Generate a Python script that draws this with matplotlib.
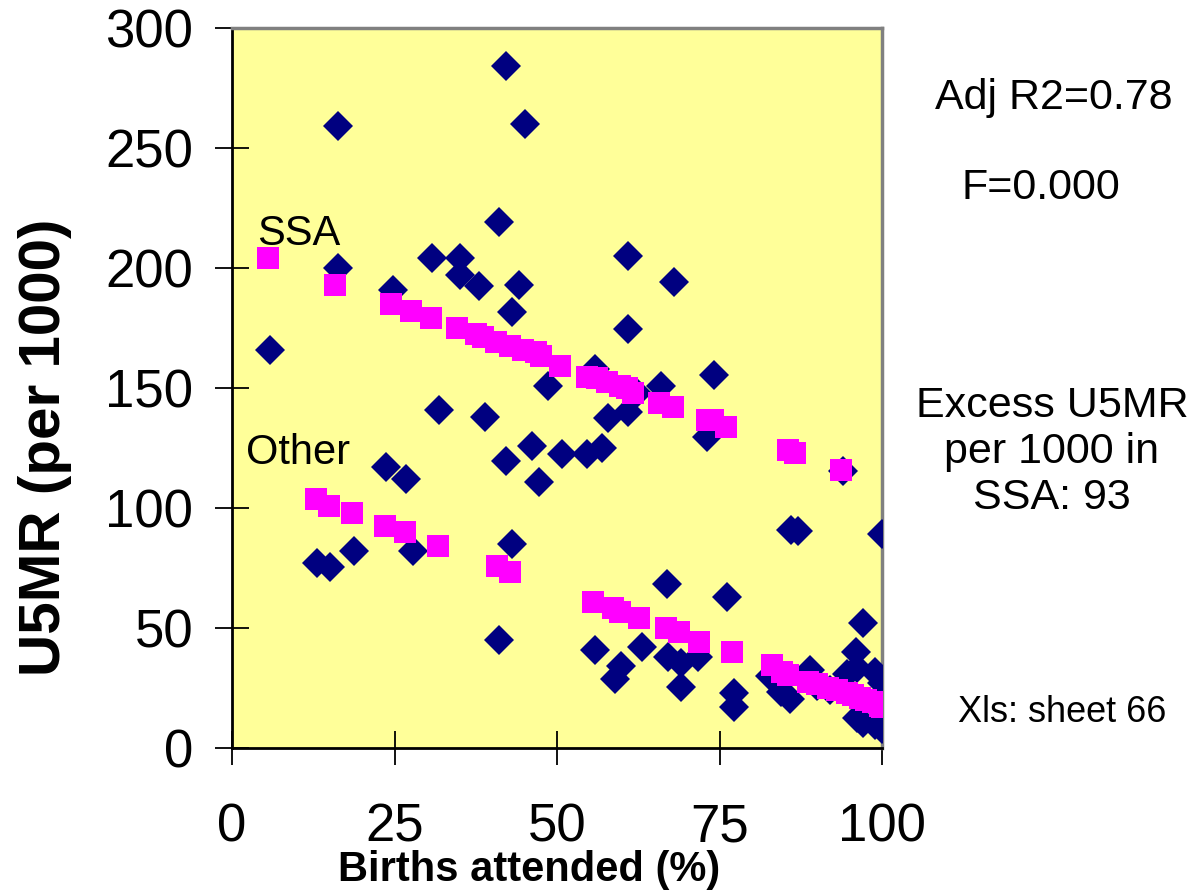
import matplotlib
matplotlib.use("Agg")
import matplotlib.pyplot as plt

plt.rcParams['font.family'] = ['Liberation Sans', 'DejaVu Sans']

# Observed data (births attended %, U5MR per 1000)
obs_x = [5.8, 16.3, 16.3, 24.8, 13.1, 15.1, 18.8, 23.7, 26.8, 27.8, 30.8, 31.8, 35.0, 35.0,
         38.0, 38.9, 42.2, 41.1, 45.1, 44.2, 43.1, 48.6, 46.2, 42.2, 47.2, 50.8, 54.6, 56.9,
         57.8, 60.9, 60.9, 68.0, 60.9, 74.2, 66.0, 55.8, 62.3, 73.0, 94.0, 43.1, 41.1, 66.9,
         76.2, 97.1, 55.8, 63.0, 59.8, 58.9, 67.0, 69.0, 69.0, 71.7, 77.2, 77.2, 84.5, 85.8,
         88.9, 82.8, 96.0, 96.2, 98.9, 100.0, 94.6, 96.2, 97.1, 98.9, 100.0, 100.0, 86.0, 87.0,
         90.0, 92.0]
obs_y = [166, 259, 200, 191, 77, 75.4, 82, 117, 112, 82, 204, 141, 204, 197,
         192.5, 138, 284, 219, 260, 193, 181.5, 151, 126, 119.6, 111, 122.6, 122.6, 125,
         137.5, 140, 205, 194, 174.6, 155.4, 151, 158, 148, 129.6, 115.4, 85, 45, 68.3,
         63, 52, 40.8, 42, 34, 28.7, 38, 35.4, 25.4, 38, 22.9, 17, 23.5, 20.5,
         32.5, 30, 40, 33.3, 31.7, 27, 31, 12.5, 10.4, 9.6, 8, 89, 91, 90.5,
         26, 24]

# Fitted values, SSA
ssa_x = [5.5, 15.8, 24.5, 27.5, 30.6, 34.6, 37.5, 38.6, 40.6, 42.7, 44.7, 46.7, 47.6, 50.4,
         54.6, 56.1, 57.7, 59.7, 60.7, 61.7, 65.7, 67.8, 73.0, 74.0, 76.0, 85.5, 86.6, 93.7]
ssa_y = [204, 193, 185, 182, 179, 175, 172.5, 171.3, 169, 167.5, 166, 164.8, 163.3, 159,
         154.6, 154, 152.5, 151, 150, 148, 143.7, 142, 136.7, 136.7, 133.8, 124, 123, 116]

# Fitted values, Other
oth_x = [12.9, 14.9, 18.5, 23.5, 26.6, 31.7, 40.8, 42.8, 55.5, 58.6, 59.7, 62.6, 66.8, 68.8,
         71.8, 76.9, 83.1, 84.6, 85.5, 88.6, 90.0, 91.7, 93.0, 94.6, 95.5, 96.6, 97.5, 98.6,
         99.7, 100.0]
oth_y = [103.7, 100.8, 98, 92.5, 90, 84, 76, 73.3, 60.8, 58.3, 56.7, 54, 50, 48.3,
         44, 40, 34.6, 31.7, 30.4, 27.5, 26.5, 25, 24, 22.9, 22, 20.8, 20, 19.2,
         17.5, 17]

x_ticks = [0, 25, 50, 75, 100]
y_ticks = [0, 50, 100, 150, 200, 250, 300]

W, H = 1200, 893
fig = plt.figure(figsize=(12, 8.93), dpi=100)
ax = fig.add_axes([232/W, 145/H, 650/W, 720/H])
ax.set_facecolor('#FFFF99')

ax.plot(obs_x, obs_y, linestyle='none', marker='D', markersize=15.5,
        color='#000080', markeredgewidth=0, zorder=3)
ax.plot(ssa_x, ssa_y, linestyle='none', marker='s', markersize=15.5,
        color='#FF00FF', markeredgewidth=0, zorder=4)
ax.plot(oth_x, oth_y, linestyle='none', marker='s', markersize=15.5,
        color='#FF00FF', markeredgewidth=0, zorder=4)

ax.set_xlim(0, 100)
ax.set_ylim(0, 300)
ax.set_xticks(x_ticks)
ax.set_yticks(y_ticks)
ax.set_xticklabels([str(v) for v in x_ticks], fontsize=38)
ax.set_yticklabels([str(v) for v in y_ticks], fontsize=38)
ax.tick_params(axis='x', direction='inout', length=24, width=1.3, pad=27)
ax.tick_params(axis='y', direction='inout', length=24, width=1.3, pad=16)

for s in ['top', 'right']:
    ax.spines[s].set_color('#808080')
    ax.spines[s].set_linewidth(2.5)
for s in ['left', 'bottom']:
    ax.spines[s].set_color('black')
    ax.spines[s].set_linewidth(2)

fig.text(529/W, 1 - 870/H, 'Births attended (%)', fontsize=30, fontweight='bold',
         ha='center', va='center')
fig.text(45/W, 1 - 447/H, 'U5MR (per 1000)', fontsize=42, fontweight='bold',
         ha='center', va='center', rotation=90)

ax.text(10.3, 214, 'SSA', fontsize=30, ha='center', va='center', zorder=5)
ax.text(10.2, 123, 'Other', fontsize=30, ha='center', va='center', zorder=5)

fig.text(1054/W, 1 - 98/H, 'Adj R2=0.78', fontsize=31, ha='center', va='center')
fig.text(1041/W, 1 - 188/H, 'F=0.000', fontsize=31, ha='center', va='center')
fig.text(1052/W, 1 - 452/H, 'Excess U5MR\nper 1000 in\nSSA: 93', fontsize=31,
         ha='center', va='center', linespacing=1.2)
fig.text(1062/W, 1 - 712/H, 'Xls: sheet 66', fontsize=26, ha='center', va='center')

fig.savefig('out.png', dpi=100)
